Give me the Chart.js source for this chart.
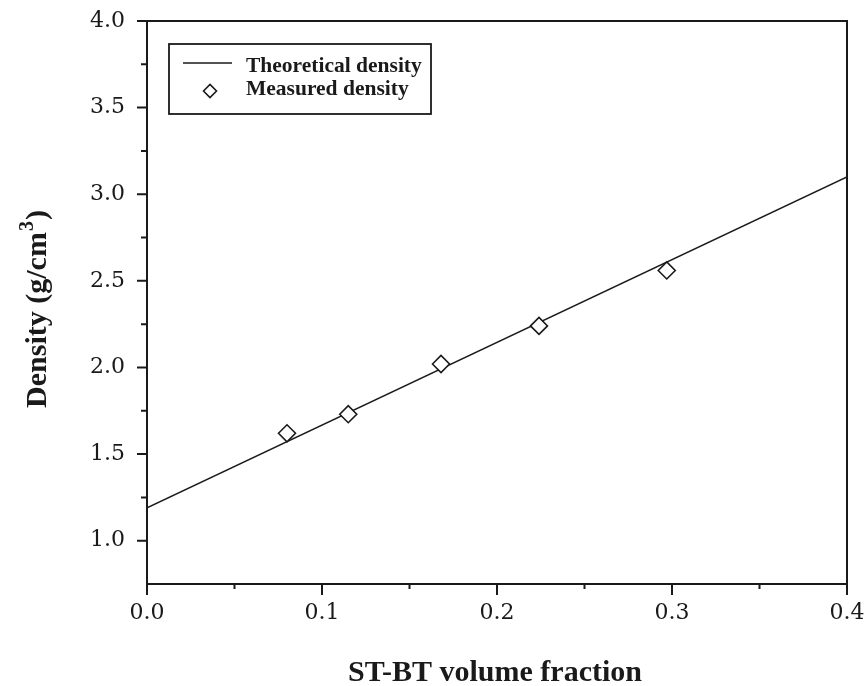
<!DOCTYPE html>
<html><head><meta charset="utf-8">
<script src="https://cdn.jsdelivr.net/npm/chart.js@4/dist/chart.umd.min.js"></script>
<style>html,body{margin:0;padding:0;background:#fff;}</style>
</head><body>
<canvas id="c" width="867" height="686"></canvas>
<script>
// ---- data ----
const lineX = [0.0, 0.4];
const lineY = [1.19, 3.10];
const measX = [0.080, 0.115, 0.168, 0.224, 0.297];
const measY = [1.62, 1.73, 2.02, 2.24, 2.56];
const xTicks = [0.0, 0.1, 0.2, 0.3, 0.4];
const yTicks = [1.0, 1.5, 2.0, 2.5, 3.0, 3.5, 4.0];
const xTitle = 'ST-BT volume fraction';
const yTitleParts = ['Density (g/cm', '3', ')'];
const legendLabels = ['Theoretical density', 'Measured density'];

const INK = '#1a1a1a';
const TICK_FONT = {family: '"DejaVu Serif", serif', size: 22};

const decor = {
  id: 'decor',
  afterDraw(chart) {
    const ctx = chart.ctx, a = chart.chartArea;
    const xs = chart.scales.x, ys = chart.scales.y;
    ctx.save();
    ctx.strokeStyle = INK; ctx.fillStyle = INK;
    // frame
    ctx.lineWidth = 2;
    ctx.strokeRect(a.left, a.top, a.right - a.left, a.bottom - a.top);
    // ticks
    ctx.lineWidth = 2;
    ctx.beginPath();
    xTicks.forEach((v, i) => {
      const px = xs.getPixelForValue(v);
      ctx.moveTo(px, a.bottom); ctx.lineTo(px, a.bottom + 11);
      if (i < xTicks.length - 1) {
        const m = xs.getPixelForValue((v + xTicks[i + 1]) / 2);
        ctx.moveTo(m, a.bottom); ctx.lineTo(m, a.bottom + 5);
      }
    });
    yTicks.forEach((v, i) => {
      const py = ys.getPixelForValue(v);
      ctx.moveTo(a.left, py); ctx.lineTo(a.left - 10, py);
      if (i < yTicks.length - 1) {
        const m = ys.getPixelForValue((v + yTicks[i + 1]) / 2);
        ctx.moveTo(a.left, m); ctx.lineTo(a.left - 6, m);
      }
    });
    ctx.stroke();
    // x title
    ctx.font = 'bold 30px "Liberation Serif", serif';
    ctx.textAlign = 'center'; ctx.textBaseline = 'alphabetic';
    ctx.fillText(xTitle, (a.left + a.right) / 2 - 2, 681);
    // y title (rotated)
    ctx.save();
    ctx.translate(46, 310);
    ctx.rotate(-Math.PI / 2);
    const fMain = 'bold 30px "Liberation Serif", serif';
    const fSup = 'bold 20px "Liberation Serif", serif';
    ctx.font = fMain; const w0 = ctx.measureText(yTitleParts[0]).width;
    const w2 = ctx.measureText(yTitleParts[2]).width;
    ctx.font = fSup; const w1 = ctx.measureText(yTitleParts[1]).width;
    let x0 = -(w0 + w1 + w2) / 2;
    ctx.textAlign = 'left';
    ctx.font = fMain; ctx.fillText(yTitleParts[0], x0, 0);
    ctx.font = fSup; ctx.fillText(yTitleParts[1], x0 + w0 + 1, -13);
    ctx.font = fMain; ctx.fillText(yTitleParts[2], x0 + w0 + w1 + 2, 0);
    ctx.restore();
    // legend
    ctx.lineWidth = 1.8;
    ctx.strokeRect(169, 44, 262, 70);
    ctx.lineWidth = 1.5;
    ctx.beginPath(); ctx.moveTo(183, 63); ctx.lineTo(232, 63); ctx.stroke();
    ctx.beginPath();
    ctx.moveTo(210 - 6.5, 91); ctx.lineTo(210, 91 - 6.5); ctx.lineTo(210 + 6.5, 91); ctx.lineTo(210, 91 + 6.5); ctx.closePath();
    ctx.fillStyle = '#fff'; ctx.fill(); ctx.lineWidth = 1.6; ctx.stroke();
    ctx.fillStyle = INK;
    ctx.font = 'bold 21.5px "Liberation Serif", serif';
    ctx.textAlign = 'left';
    ctx.fillText(legendLabels[0], 246, 72);
    ctx.fillText(legendLabels[1], 246, 95);
    ctx.restore();
  }
};

new Chart(document.getElementById('c'), {
  type: 'scatter',
  data: {
    datasets: [
      {
        label: legendLabels[0],
        data: lineX.map((x, i) => ({x, y: lineY[i]})),
        showLine: true, borderColor: INK, borderWidth: 1.6,
        pointRadius: 0, fill: false, order: 2
      },
      {
        label: legendLabels[1],
        data: measX.map((x, i) => ({x, y: measY[i]})),
        pointStyle: 'rectRot', pointRadius: 8.5, pointBorderWidth: 1.6,
        pointBorderColor: INK, pointBackgroundColor: '#fff', order: 1
      }
    ]
  },
  options: {
    responsive: false, animation: false, devicePixelRatio: 1,
    layout: {padding: {top: 21, right: 20, bottom: 0, left: 0}},
    plugins: {legend: {display: false}, tooltip: {enabled: false}},
    scales: {
      x: {
        type: 'linear', min: 0, max: 0.4,
        afterBuildTicks: s => { s.ticks = xTicks.map(v => ({value: v})); },
        afterFit: s => { s.height = 102; s.paddingLeft = 0; s.paddingRight = 0; },
        grid: {display: false, drawTicks: false},
        border: {display: false},
        ticks: {color: INK, font: TICK_FONT, padding: 16, maxRotation: 0,
          callback: v => Number(v).toFixed(1)}
      },
      y: {
        type: 'linear', min: 0.75, max: 4.0,
        afterBuildTicks: s => { s.ticks = yTicks.map(v => ({value: v})); },
        afterFit: s => { s.width = 147; s.paddingTop = 0; s.paddingBottom = 0; },
        grid: {display: false, drawTicks: false},
        border: {display: false},
        ticks: {color: INK, font: TICK_FONT, padding: 22,
          callback: v => Number(v).toFixed(1)}
      }
    }
  },
  plugins: [decor]
});
</script>
</body></html>
